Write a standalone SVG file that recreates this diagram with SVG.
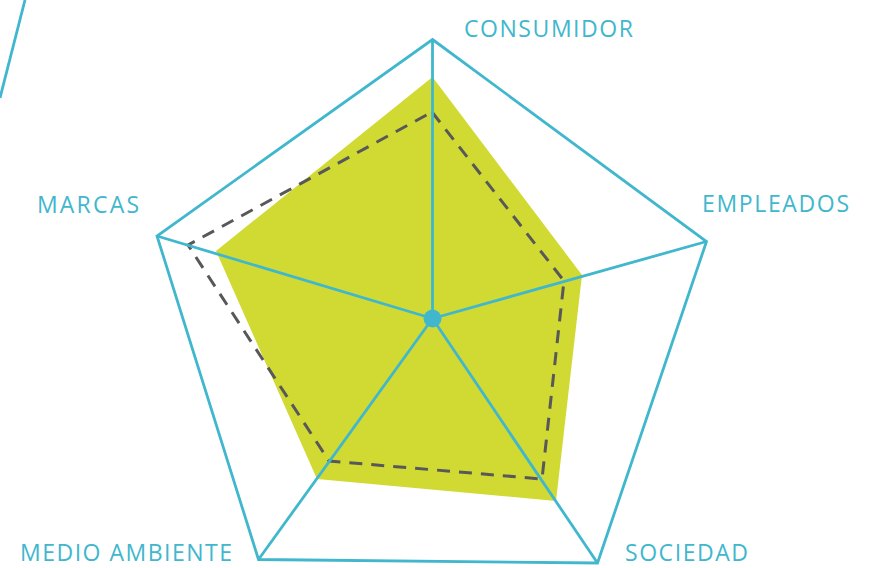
<svg xmlns="http://www.w3.org/2000/svg" width="874" height="568" viewBox="0 0 874 568">
  <style>
    .lbl { font-family: "Open Sans", "Liberation Sans", sans-serif; font-size: 23px; fill: #40b7cd; }
    .teal { fill: none; stroke: #40b7cd; stroke-width: 2.8; stroke-linejoin: miter; }
    .dash { fill: none; stroke: #58585a; stroke-width: 3; stroke-dasharray: 13 9; }
  </style>
  <rect width="874" height="568" fill="#ffffff"/>
  <g id="decor">
    <line x1="25" y1="0" x2="0" y2="98" class="teal"/>
  </g>
  <g id="score-area">
    <polygon points="432.5,77 582,275 556,501 317,479 216,251" fill="#d1da33"/>
  </g>
  <g id="benchmark">
    <polygon points="432,112 564,281 542,479 329,461 188,245" class="dash"/>
  </g>
  <g id="connectors">
    <line x1="432.5" y1="318.5" x2="432.5" y2="39.5" class="teal"/>
    <line x1="432.5" y1="318.5" x2="706.5" y2="241.5" class="teal"/>
    <line x1="432.5" y1="318.5" x2="597.5" y2="563" class="teal"/>
    <line x1="432.5" y1="318.5" x2="258.5" y2="559.5" class="teal"/>
    <line x1="432.5" y1="318.5" x2="157" y2="236" class="teal"/>
  </g>
  <g id="frame">
    <polygon points="432.5,39.5 706.5,241.5 597.5,563 258.5,559.5 157,236" class="teal"/>
  </g>
  <g id="center">
    <circle cx="432.5" cy="318.5" r="9" fill="#40b7cd"/>
  </g>
  <g id="node-consumidor">
    <text class="lbl" x="464" y="37" textLength="169" lengthAdjust="spacing">CONSUMIDOR</text>
  </g>
  <g id="node-empleados">
    <text class="lbl" x="702" y="211.5" textLength="147" lengthAdjust="spacing">EMPLEADOS</text>
  </g>
  <g id="node-sociedad">
    <text class="lbl" x="625" y="561" textLength="123" lengthAdjust="spacing">SOCIEDAD</text>
  </g>
  <g id="node-medio-ambiente">
    <text class="lbl" x="20" y="561" textLength="212" lengthAdjust="spacing">MEDIO AMBIENTE</text>
  </g>
  <g id="node-marcas">
    <text class="lbl" x="37" y="212.5" textLength="102" lengthAdjust="spacing">MARCAS</text>
  </g>
</svg>
